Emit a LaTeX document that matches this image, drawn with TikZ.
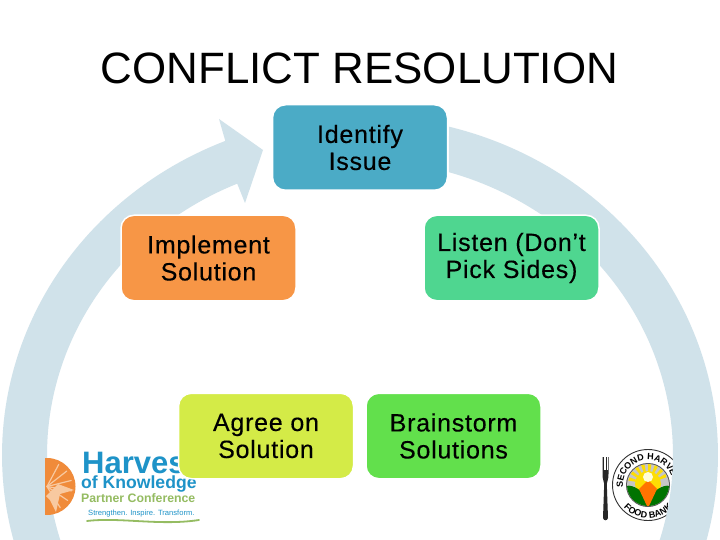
\documentclass[tikz,border=0pt]{standalone}
\usepackage{fontspec}
\setmainfont{Liberation Sans}
\newfontfamily\stagefont[LetterSpace=3,FakeBold=0.25]{Liberation Sans}
\usetikzlibrary{decorations.text}
\definecolor{ringc}{HTML}{D0E2EA}
\definecolor{c1}{HTML}{4BABC6}
\definecolor{c2}{HTML}{4FD690}
\definecolor{c3}{HTML}{62E04C}
\definecolor{c4}{HTML}{D4EB47}
\definecolor{c5}{HTML}{F79646}
\definecolor{hblue}{HTML}{1E93C8}
\definecolor{hgreen}{HTML}{95BC62}
\definecolor{lorange}{HTML}{F08B3A}
\definecolor{lpale}{HTML}{F8C9A0}
\tikzset{
  x=1pt,y=-1pt,
  stage/.style={draw=white,line width=1.5pt,rounded corners=13pt,minimum width=175pt,minimum height=85.5pt,
    inner sep=0pt,align=center,font=\stagefont\fontsize{25}{27}\selectfont,text=black},
  logotext/.style={inner sep=0pt,anchor=base west}
}
\begin{document}
\begin{tikzpicture}
\useasboundingbox (0,0) rectangle (720,540);
\clip (0,0) rectangle (720,540);
\fill[white] (0,0) rectangle (720,540);
% right logo: fork
\fill[black!85] (602.5,457) -- (608.5,457) -- (608.5,474) .. controls (608.5,480) and (607,481) .. (606.8,484)
  -- (608,518) .. controls (607.5,521) and (603.5,521) .. (603,518) -- (604.2,484) .. controls (604,481) and (602.5,480) .. (602.5,474) -- cycle;
\draw[white,line width=.4pt] (604,457) -- (604,470) (605.5,457) -- (605.5,470) (607,457) -- (607,470);
% right logo: seal
\coordinate (sealc) at (648,485);
\draw[black!80,line width=.9pt] (sealc) circle (35.5);
\fill[black!65!white] (sealc) circle (22);
\fill[gray!45] (sealc) circle (21);
\begin{scope}
  \clip (sealc) circle (21);
  \fill[yellow!80!orange] (648,484) circle (13);
  \foreach \a in {-165,-145,...,-15}{\fill[yellow!80!orange] (648,484) -- ++(\a-5:20) -- ++(\a+95:3.4) -- cycle;}
  \fill[green!45!black] (626,486) .. controls (634,484) and (642,492) .. (648,497) .. controls (654,492) and (662,484) .. (670,486) -- (670,508) -- (626,508) -- cycle;
  \fill[orange!90!red] (648,480) -- (657,489) -- (649,506) -- (647,506) -- (639,489) -- cycle;
  \fill[white!85!yellow] (648,477) circle (5);
\end{scope}
\path[postaction={decorate,decoration={text along path,text align=center,
   text={|\bfseries\fontsize{9}{9}\selectfont|SECOND HARVEST}}}]
   plot[domain=195:-15,samples=60] ({648+25*cos(\x)},{485-25*sin(\x)});
\path[postaction={decorate,decoration={text along path,text align=center,
   text={|\bfseries\fontsize{9}{9}\selectfont|FOOD BANK}}}]
   plot[domain=212:328,samples=60] ({648+33*cos(\x)},{485-33*sin(\x)});
% cycle ring
\fill[ringc] plot[domain=75.6:-247.9,samples=240] ({360+358*cos(\x)},{455-339*sin(\x)})
  -- (219,119) -- (263,150) -- (245,203)
  -- plot[domain=-246.9:73.5,samples=240] ({360+313*cos(\x)},{455-295*sin(\x)}) -- cycle;
% left logo
\begin{scope}
  \clip (45,450) rectangle (80,520);
  \fill[lorange] (47,486.5) circle (28.5);
  \fill[lpale] (46,496) -- (58,484) -- (74,490) -- (60,494) -- (56,512) -- (50,500) -- cycle;
  \foreach \a in {-62,-38,-14,10,34,58}{
    \draw[lpale,line width=1.2pt,line cap=round] (47,486.5) -- ++(\a:25);
  }
\end{scope}
\node[logotext,text=hblue,font=\bfseries\fontsize{31}{31}\selectfont] (h1) at (82,473) {Harvest};
\node[logotext,text=hblue,font=\bfseries\fontsize{17.6}{17.6}\selectfont] (h2) at (81,488) {of Knowledge};
\node[logotext,text=hgreen,font=\bfseries\fontsize{12.3}{12.3}\selectfont] (h3) at (81,502) {Partner Conference};
\node[logotext,text=hblue,font=\fontsize{7.6}{7.6}\selectfont] (h4) at (88,515) {Strengthen. Inspire. Transform.};
\draw[hgreen,line width=1.8pt,line cap=round] (87,521) .. controls (120,517) and (160,526) .. (199,520);
% stages
\node[stage,fill=c1] (identify) at (360,147.5) {Identify\\Issue};
\node[stage,fill=c2] (listen) at (511.5,258) {Listen (Don’t\\Pick Sides)};
\node[stage,fill=c3] (brain) at (453.5,436) {Brainstorm\\Solutions};
\node[stage,fill=c4] (agree) at (266,436) {Agree on\\Solution};
\node[stage,fill=c5] (impl) at (208.5,258) {Implement\\Solution};
\node[inner sep=0pt,anchor=base,font=\fontsize{43.9}{44}\selectfont] (title) at (359.5,84) {CONFLICT RESOLUTION};
\end{tikzpicture}
\end{document}
